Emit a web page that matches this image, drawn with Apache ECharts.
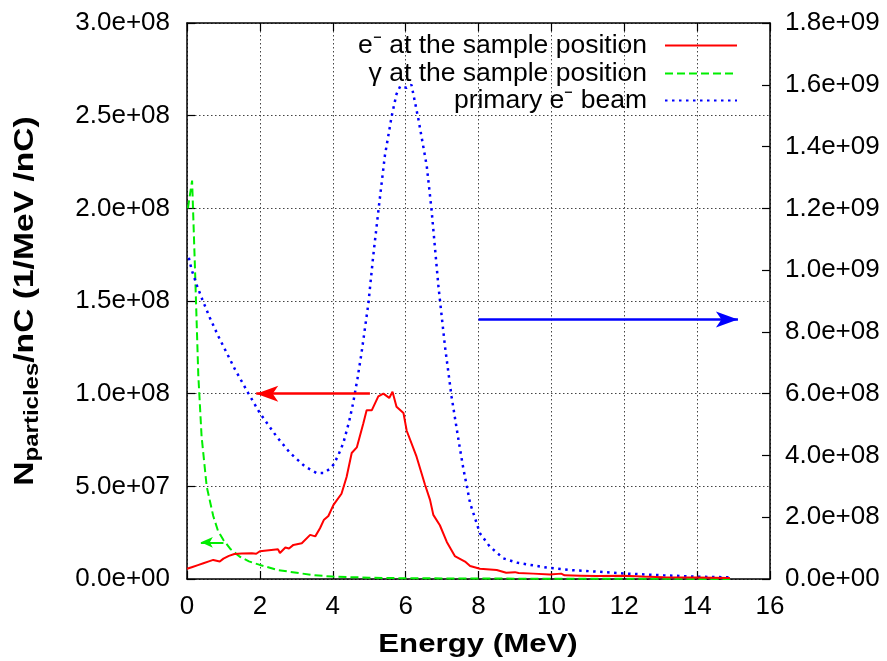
<!DOCTYPE html>
<html><head><meta charset="utf-8">
<script src="https://cdn.jsdelivr.net/npm/echarts@6/dist/echarts.min.js"></script>
<style>html,body{margin:0;padding:0;background:#fff}#c{width:887px;height:661px}</style>
</head><body><div id="c"></div>
<script>
// ---- data ----
const xTicks = [0,2,4,6,8,10,12,14,16];
const seriesNames = ['e\u207B at the sample position', '\u03B3 at the sample position', 'primary e\u207B beam'];

const redE = [0.0,0.15,0.3,0.45,0.6,0.72,0.9,1.0,1.15,1.3,1.5,1.78,1.9,2.0,2.25,2.5,2.55,2.7,2.8,2.92,3.15,3.38,3.52,3.65,3.76,3.88,4.02,4.24,4.38,4.52,4.66,4.84,4.93,5.07,5.25,5.39,5.55,5.64,5.75,5.94,6.03,6.3,6.53,6.67,6.76,6.94,7.13,7.35,7.63,7.77,8.04,8.5,8.76,9.0,9.1,9.5,9.96,10.27,10.36,10.8,11.24,11.97,12.5,13.07,13.98,14.9];
const redV = [5.5e6,6.5e6,7.5e6,8.5e6,9.5e6,1.03e7,9.4e6,1.1e7,1.25e7,1.35e7,1.38e7,1.39e7,1.36e7,1.5e7,1.55e7,1.6e7,1.4e7,1.7e7,1.65e7,1.84e7,1.93e7,2.38e7,2.3e7,2.74e7,3.2e7,3.4e7,4.0e7,4.6e7,5.5e7,6.8e7,7.1e7,8.4e7,9.1e7,9.1e7,9.85e7,1.0e8,9.77e7,1.01e8,9.3e7,8.96e7,8.0e7,6.6e7,5.1e7,4.27e7,3.46e7,2.9e7,2.0e7,1.24e7,9.4e6,7.0e6,5.5e6,4.9e6,3.4e6,3.7e6,3.2e6,2.9e6,2.4e6,2.9e6,2.0e6,1.8e6,1.6e6,1.8e6,1.3e6,0.9e6,0.8e6,0.5e6];

const greenE = [0.025,0.14,0.22,0.31,0.40,0.54,0.63,0.72,0.85,1.0,1.2,1.45,1.7,2.0,2.5,3.1,3.5,4.0,5.0,6.0,8.0,10.0,12.0,14.9];
const greenV = [2.0e8,2.15e8,1.67e8,1.1e8,7.7e7,5.0e7,4.2e7,3.4e7,2.6e7,2.1e7,1.6e7,1.2e7,9.5e6,7.6e6,4.8e6,3.1e6,2.0e6,1.3e6,0.7e6,0.4e6,0.25e6,0.15e6,0.1e6,0.05e6];

const blueE = [0.05,0.13,0.28,0.42,0.63,0.86,1.09,1.32,1.68,2.0,2.46,2.83,3.24,3.56,3.74,3.9,4.02,4.15,4.29,4.45,4.56,4.68,4.79,4.98,5.11,5.27,5.43,5.62,5.75,5.85,6.03,6.16,6.35,6.58,6.71,6.9,7.08,7.26,7.45,7.58,7.68,7.77,8.04,8.31,8.68,9.05,9.87,10.51,11.24,11.97,13.07,13.99,14.9];
const blueV = [1.04e9,1.0e9,0.948e9,0.905e9,0.845e9,0.786e9,0.732e9,0.678e9,0.602e9,0.537e9,0.461e9,0.408e9,0.364e9,0.343e9,0.343e9,0.355e9,0.37e9,0.40e9,0.44e9,0.51e9,0.57e9,0.65e9,0.732e9,0.894e9,1.045e9,1.21e9,1.37e9,1.5e9,1.57e9,1.595e9,1.59e9,1.60e9,1.489e9,1.337e9,1.197e9,0.948e9,0.753e9,0.591e9,0.451e9,0.36e9,0.30e9,0.245e9,0.148e9,0.105e9,0.067e9,0.053e9,0.037e9,0.029e9,0.024e9,0.018e9,0.012e9,0.0075e9,0.0055e9];

// annotation arrows [start, end] in data units
const arrowRed = [[5.02, 1.0e8], [1.9, 1.0e8]];
const arrowGreen = [[1.0, 1.98e7], [0.38, 1.98e7]];
const arrowBlue = [[8.0, 0.84e9], [15.12, 0.84e9]];

// ---- chart ----
const FONT = 'Liberation Sans';
function fmt(v){
  const s = v.toExponential(1).split('e');
  const sign = s[1][0];
  return s[0] + 'e' + sign + s[1].slice(1).padStart(2,'0');
}
const pairs = (xs, ys) => xs.map((x,i)=>[x, ys[i]]);
function arrowML(a, color, width, size){
  return {
    silent: true, symbol: ['none','arrow'], symbolSize: size, animation:false,
    label:{show:false}, emphasis:{disabled:true},
    lineStyle:{color, width, type:'solid'},
    data:[[{coord:a[0]},{coord:a[1]}]]
  };
}
const axisLineStyle = {color:'#000', width:1.5};
const gridStyle = {color:'#444', width:1, type:[1.5,2.5]};
const tickStyle = {show:true, inside:true, length:8, lineStyle:{color:'#000', width:1.2}};

const chart = echarts.init(document.getElementById('c'), null, {renderer:'canvas'});
chart.setOption({
  animation:false,
  backgroundColor:'#fff',
  textStyle:{fontFamily:FONT},
  grid:{left:187, right:117, top:23, bottom:82, containLabel:false},
  xAxis:[{
    type:'value', min:xTicks[0], max:xTicks[xTicks.length-1], interval:2, position:'bottom',
    axisLine:{show:true, onZero:false, lineStyle:axisLineStyle},
    axisTick:tickStyle,
    axisLabel:{fontSize:26, color:'#000', margin:15, fontFamily:FONT},
    splitLine:{show:true, lineStyle:gridStyle}
  },{
    type:'value', min:xTicks[0], max:xTicks[xTicks.length-1], interval:2, position:'top',
    axisLine:{show:true, onZero:false, lineStyle:axisLineStyle},
    axisTick:tickStyle,
    axisLabel:{show:false}, splitLine:{show:false}
  }],
  yAxis:[{
    type:'value', min:0, max:3e8, interval:5e7, position:'left',
    axisLine:{show:true, onZero:false, lineStyle:axisLineStyle},
    axisTick:tickStyle,
    axisLabel:{fontSize:26, color:'#000', margin:17, formatter:fmt, fontFamily:FONT},
    splitLine:{show:true, lineStyle:gridStyle}
  },{
    type:'value', min:0, max:1.8e9, interval:2e8, position:'right',
    axisLine:{show:true, onZero:false, lineStyle:axisLineStyle},
    axisTick:tickStyle,
    axisLabel:{fontSize:26, color:'#000', margin:15, formatter:fmt, fontFamily:FONT},
    splitLine:{show:false}
  }],
  legend:[0,1,2].map(i=>({
    data:[seriesNames[i]], orient:'vertical', align:'right', right:149, top:[32,60,87][i], padding:0,
    itemWidth:72, itemHeight:14, selectedMode:false,
    itemStyle:{opacity:0},
    textStyle:{fontSize:26.5, color:'#000', fontFamily:FONT, padding:[0,13,0,0]}
  })),
  series:[{
    name:seriesNames[0], type:'line', xAxisIndex:0, yAxisIndex:0, symbol:'none', smooth:false,
    data:pairs(redE, redV), lineStyle:{color:'#ff0000', width:2, type:'solid'}, itemStyle:{color:'#ff0000'},
    markLine:arrowML(arrowRed, '#ff0000', 2.5, [12,22]), z:3
  },{
    name:seriesNames[1], type:'line', xAxisIndex:0, yAxisIndex:0, symbol:'none',
    data:pairs(greenE, greenV), lineStyle:{color:'#00ee00', width:2, type:[8,4]}, itemStyle:{color:'#00ee00'},
    markLine:arrowML(arrowGreen, '#00ee00', 2, [8,12]), z:2
  },{
    name:seriesNames[2], type:'line', xAxisIndex:0, yAxisIndex:1, symbol:'none',
    data:pairs(blueE, blueV), lineStyle:{color:'#0000ff', width:2.5, type:[2.5,4.5]}, itemStyle:{color:'#0000ff'},
    markLine:arrowML(arrowBlue, '#0000ff', 2.5, [12,22]), z:2
  }],
  graphic:[{
    type:'text', x:25, y:301, rotation:Math.PI/2, scaleX:1.2,
    style:{
      text:'{b|N}{s|particles}{b|/nC (1/MeV /nC)}',
      align:'center', verticalAlign:'middle', fill:'#000',
      rich:{
        b:{fontSize:28, fontWeight:'bold', fontFamily:FONT, lineHeight:34, verticalAlign:'middle', fill:'#000'},
        s:{fontSize:20, fontWeight:'bold', fontFamily:FONT, lineHeight:20, verticalAlign:'bottom', fill:'#000'}
      }
    }
  },{
    type:'text', x:478, y:645, scaleX:1.2,
    style:{text:'Energy (MeV)', align:'center', verticalAlign:'middle', fill:'#000',
      fontSize:26, fontWeight:'bold', fontFamily:FONT}
  }]
});
</script></body></html>
